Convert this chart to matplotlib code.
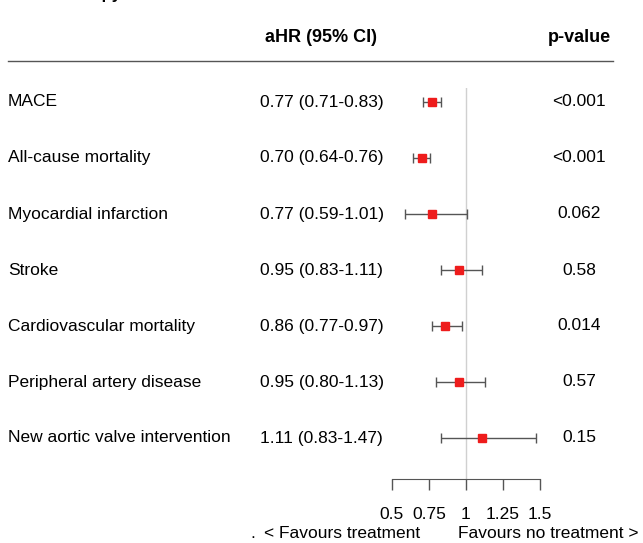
import numpy as np
import matplotlib
matplotlib.use("Agg")
import matplotlib.pyplot as plt

plt.rcParams["font.family"] = ["Liberation Sans", "DejaVu Sans"]

outcomes = [
    "MACE",
    "All-cause mortality",
    "Myocardial infarction",
    "Stroke",
    "Cardiovascular mortality",
    "Peripheral artery disease",
    "New aortic valve intervention",
]
hr = [0.77, 0.70, 0.77, 0.95, 0.86, 0.95, 1.11]
lo = [0.71, 0.64, 0.59, 0.83, 0.77, 0.80, 0.83]
hi = [0.83, 0.76, 1.01, 1.11, 0.97, 1.13, 1.47]
pvals = ["<0.001", "<0.001", "0.062", "0.58", "0.014", "0.57", "0.15"]
xticks = [0.5, 0.75, 1, 1.25, 1.5]
xticklabels = ["0.5", "0.75", "1", "1.25", "1.5"]

W, H = 643, 543
fig = plt.figure(figsize=(W / 100, H / 100), dpi=100)


def fx(px):
    return px / W


def fy(py):
    return 1 - py / H


# forest panel: pixel box 392..540 (x), 88..479 (y)
ax = fig.add_axes([fx(392), fy(479), fx(540) - fx(392), (479 - 88) / H])
rows = np.arange(len(outcomes))
hr = np.array(hr)
err = np.array([hr - np.array(lo), np.array(hi) - hr])
ax.axvline(1, color="#d0d0d0", linewidth=1, zorder=0)
ax.errorbar(hr, rows, xerr=err, fmt="none", ecolor="#555555",
            elinewidth=1, capsize=3.5, capthick=1, zorder=2)
ax.plot(hr, rows, "s", color="#ee1c1c", markersize=6, zorder=3)
ax.set_xlim(0.5, 1.5)
ax.set_ylim(6.732, -0.25)
for s in ["top", "left", "right"]:
    ax.spines[s].set_visible(False)
ax.spines["bottom"].set_color("#555555")
ax.set_yticks([])
ax.set_xticks(xticks)
ax.set_xticklabels(xticklabels)
ax.tick_params(axis="x", length=8, width=1, color="#555555",
               labelsize=12.5, pad=12)
ax.patch.set_alpha(0)

fs = 12.5
# header (title is cut off at the top edge, as in the source image)
fig.text(fx(10), fy(-1), "Statin therapy vs. no statin", fontsize=12,
         fontweight="bold", va="baseline", ha="left")
fig.text(fx(321), fy(38), "aHR (95% CI)", fontsize=13, fontweight="bold",
         ha="center", va="center")
fig.text(fx(579), fy(38), "p-value", fontsize=13, fontweight="bold",
         ha="center", va="center")
fig.add_artist(plt.Line2D([fx(8), fx(613)], [fy(61), fy(61)],
                          color="#555555", linewidth=1))

# rows
for i, name in enumerate(outcomes):
    y = fy(102 + 56 * i)
    fig.text(fx(8), y, name, fontsize=fs, va="center", ha="left")
    fig.text(fx(260), y, f"{hr[i]:.2f} ({lo[i]:.2f}-{hi[i]:.2f})",
             fontsize=fs, va="center", ha="left")
    fig.text(fx(579), y, pvals[i], fontsize=fs, va="center", ha="center")

fig.text(fx(250), fy(533), ".", fontsize=fs, va="center", ha="left")
fig.text(fx(420), fy(533), "< Favours treatment", fontsize=fs,
         va="center", ha="right")
fig.text(fx(458), fy(533), "Favours no treatment >", fontsize=fs,
         va="center", ha="left")

fig.savefig("out.png", dpi=100)
